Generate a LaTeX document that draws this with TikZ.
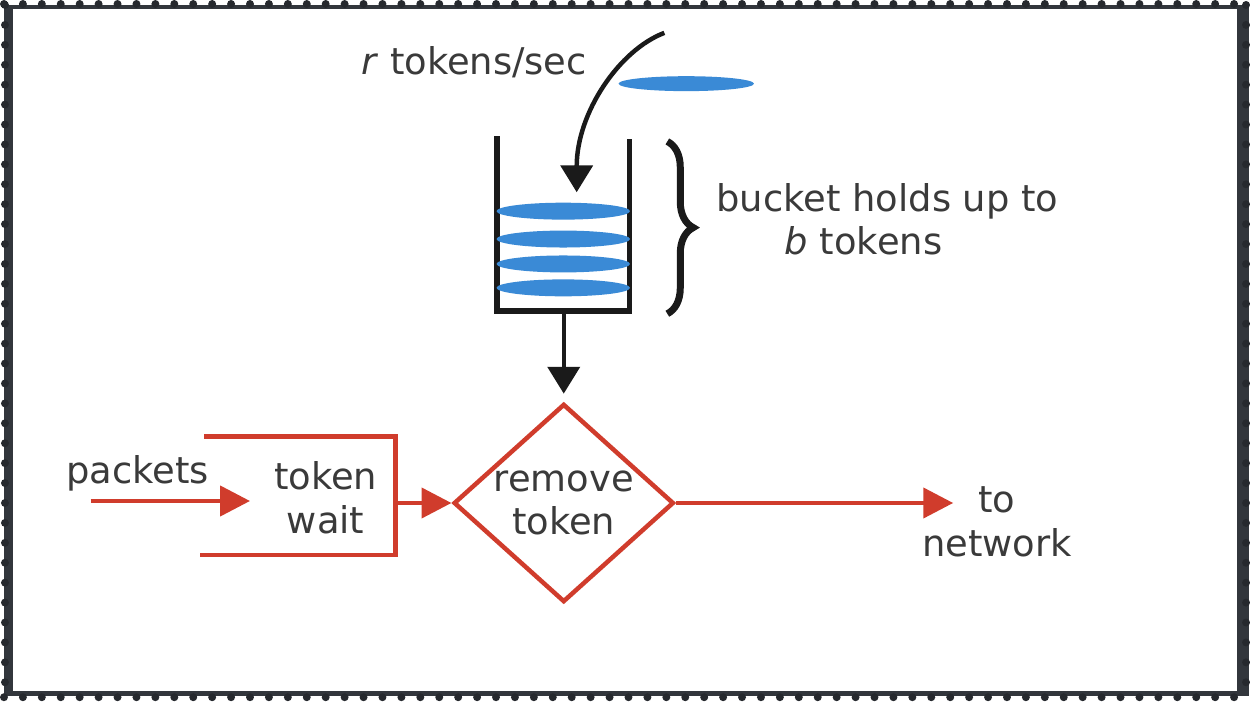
\documentclass[tikz,border=0pt]{standalone}
\usepackage{fontspec}
\setmainfont{DejaVu Sans}
\usetikzlibrary{arrows.meta,shapes.geometric,decorations.pathreplacing}

\definecolor{frame}{RGB}{50,54,60}
\definecolor{framedot}{RGB}{38,41,46}
\definecolor{flowred}{RGB}{208,60,44}
\definecolor{tokblue}{RGB}{58,138,214}
\definecolor{ink}{RGB}{58,58,58}
\definecolor{lineblack}{RGB}{26,26,26}

\begin{document}
\begin{tikzpicture}[x=1pt,y=-1pt,
  lbl/.style={font=\fontsize{37}{44}\selectfont, text=ink, inner sep=0pt, align=center},
  token/.style={ellipse, fill=tokblue, inner sep=0pt, minimum width=134pt, minimum height=17pt},
  redline/.style={draw=flowred, line width=4.5pt, line join=miter},
  redarrow/.style={draw=flowred, line width=4.5pt, -{Triangle[length=30pt,width=30pt]}},
  blackarrow/.style={draw=lineblack, line width=4.5pt, -{Triangle[length=27pt,width=32pt]}},
  wall/.style={draw=lineblack, line width=5.5pt, line join=miter},
]
% slide frame with its dotted edge
\fill[frame] (0,0) rectangle (1250,694);
\foreach \p in {0,19,...,1250} {
  \fill[framedot] (\p,-1) circle (4pt);
  \fill[framedot] (\p,695) circle (4pt);
}
\foreach \p in {0,20,...,694} {
  \fill[framedot] (1,\p) circle (4pt);
  \fill[framedot] (1247,\p) circle (4pt);
}
\fill[white] (9,4) rectangle (1238,689);

% token source
\node[lbl, anchor=base] (rate) at (472,70) {\textit{r} tokens/sec};
\node[token, minimum width=136pt, minimum height=15pt] (tnew) at (685,79) {};
\coordinate (src) at (663,28);
\coordinate (drop) at (575,188);
\draw[blackarrow] (src) .. controls (618,45) and (575,108) .. (drop);

% bucket with tokens
\draw[wall] (495,132) -- (495,307) -- (628,307) -- (628,135);
\coordinate (bktout) at (562,307);
\node[token] (t1) at (561.5,207) {};
\node[token] (t2) at (561.5,235) {};
\node[token] (t3) at (561.5,260) {};
\node[token] (t4) at (561.5,284) {};

% capacity brace and label
\draw[lineblack, line width=7pt, decorate, decoration={brace, amplitude=26pt}]
  (666,137) -- (666,310);
\node[lbl, anchor=base] (hold1) at (887,207) {bucket holds up to};
\node[lbl, anchor=base] (hold2) at (863,251) {\textit{b} tokens};

% packet path
\node[lbl, anchor=base] (pk) at (134,480) {packets};
\node[lbl] (tw) at (323,495) {token\\wait};
\node[diamond, draw=flowred, line width=4.5pt, inner sep=0pt, aspect=1.11,
      minimum width=221pt, minimum height=199pt, lbl, draw=flowred] (rt) at (562,500) {remove\\token};
\node[lbl] (net) at (997,519) {to\\network};

\draw[redline] (201,433) coordinate (wtl) -- (393,433) coordinate (wtr)
  -- (393,552) coordinate (wbr) -- (197,552) coordinate (wbl);
\coordinate (pin) at (87,498);
\coordinate (pend) at (247,498);
\draw[redarrow] (pin) -- (pend);
\draw[redarrow] (rt.west -| wbr) -- (rt.west);
\coordinate (netend) at (953,500);
\draw[redarrow] (rt.east) -- (netend);
\draw[blackarrow, shorten >=8pt] (bktout) -- (rt.north);
\end{tikzpicture}
\end{document}
